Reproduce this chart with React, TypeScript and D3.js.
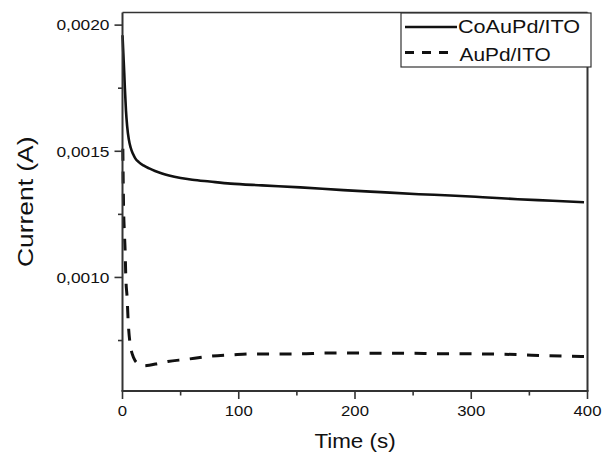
import React from "react";
import * as d3 from "d3";

const solidTime = [0, 0.5, 1, 1.5, 2, 3, 4, 5.4, 7, 9, 11, 14, 18, 23, 28, 34, 40, 50, 60, 75, 93, 120, 153, 190, 222, 255, 282, 310, 340, 370, 397];
const solidCurrent = [0.00196, 0.00191, 0.00186, 0.00181, 0.001754, 0.00166, 0.0016, 0.001548, 0.001515, 0.00149, 0.001472, 0.001457, 0.001444, 0.001432, 0.001422, 0.001412, 0.001404, 0.001394, 0.001387, 0.00138, 0.001372, 0.001365, 0.001357, 0.001346, 0.001338, 0.00133, 0.001325, 0.001318, 0.00131, 0.001304, 0.001298];

const dashTime = [0.3, 0.9, 1.5, 2.3, 2.8, 4.0, 4.9, 6.6, 8.5, 10.9, 14, 17.8, 23, 30.7, 39, 54, 74, 94, 112, 133, 151, 172, 192, 210, 230, 250, 269, 289, 308, 327, 346, 366, 385, 397];
const dashCurrent = [0.00151, 0.001282, 0.00119, 0.0011, 0.001008, 0.000917, 0.000825, 0.000734, 0.000695, 0.00067, 0.000656, 0.00065, 0.000652, 0.000659, 0.000667, 0.000675, 0.000687, 0.000693, 0.000697, 0.000697, 0.000697, 0.0007, 0.000701, 0.0007, 0.0007, 0.0007, 0.000698, 0.000698, 0.000697, 0.000696, 0.000693, 0.00069, 0.000688, 0.000687];

const xMajor = [0, 100, 200, 300, 400];
const xMinor = [50, 150, 250, 350];
const yMajor = [0.001, 0.0015, 0.002];
const yMinor = [0.00075, 0.00125, 0.00175];

const seriesNames = ["CoAuPd/ITO", "AuPd/ITO"];
const xTitle = "Time (s)";
const yTitle = "Current (A)";

const FONT = "'Liberation Sans', Arial, Helvetica, sans-serif";
const INK = "#111";

export default function App() {
  const left = 122.5, right = 587.5, top = 12.5, bottom = 391;
  const x = d3.scaleLinear().domain([0, 400]).range([left, right]);
  const y = d3.scaleLinear().domain([0.00055, 0.00205]).range([bottom, top]);

  const line = d3
    .line<[number, number]>()
    .x((d) => x(d[0]))
    .y((d) => y(d[1]))
    .curve(d3.curveMonotoneX);

  const solidPts = solidTime.map((t, i) => [t, solidCurrent[i]] as [number, number]);
  const dashPts = dashTime.map((t, i) => [t, dashCurrent[i]] as [number, number]);

  const fmtY = (v: number) => v.toFixed(4).replace(".", ",");

  return (
    <svg
      width={602}
      height={452}
      style={{ position: "absolute", left: 0, top: 0, background: "#fff" }}
      fontFamily={FONT}
    >
      <rect x={0} y={0} width={602} height={452} fill="#fff" />
      {/* frame */}
      <line x1={left} x2={right} y1={top} y2={top} stroke="#333" strokeWidth={1.5} />
      <line x1={right} x2={right} y1={top} y2={bottom} stroke="#333" strokeWidth={2} />
      {/* curves */}
      <path d={line(solidPts) || ""} fill="none" stroke={INK} strokeWidth={2.6} />
      <path d={line(dashPts) || ""} fill="none" stroke={INK} strokeWidth={3} strokeDasharray="12,10.5" />
      {/* axes */}
      <line x1={left} x2={left} y1={top} y2={bottom} stroke="#333" strokeWidth={2} />
      <line x1={left - 1} x2={right + 1} y1={bottom} y2={bottom} stroke="#333" strokeWidth={2} />
      {xMajor.map((v) => (
        <g key={"xm" + v}>
          <line x1={x(v)} x2={x(v)} y1={bottom} y2={bottom + 8} stroke="#333" strokeWidth={1.6} />
          <g transform={`translate(${x(v)},${416}) scale(1.08,1)`}>
            <text textAnchor="middle" fontSize={15.5} fill={INK}>
              {v}
            </text>
          </g>
        </g>
      ))}
      {xMinor.map((v) => (
        <line key={"xn" + v} x1={x(v)} x2={x(v)} y1={bottom} y2={bottom + 4.5} stroke="#333" strokeWidth={1.6} />
      ))}
      {yMajor.map((v) => (
        <g key={"ym" + v}>
          <line x1={left - 8} x2={left} y1={y(v)} y2={y(v)} stroke="#333" strokeWidth={1.6} />
          <g transform={`translate(${left - 13},${y(v) + 5.3}) scale(1.12,1)`}>
            <text textAnchor="end" fontSize={15.5} fill={INK}>
              {fmtY(v)}
            </text>
          </g>
        </g>
      ))}
      {yMinor.map((v) => (
        <line key={"yn" + v} x1={left - 4.5} x2={left} y1={y(v)} y2={y(v)} stroke="#333" strokeWidth={1.6} />
      ))}
      {/* titles */}
      <g transform={`translate(${(left + right) / 2},448) scale(1.12,1)`}>
        <text textAnchor="middle" fontSize={20} fill={INK}>
          {xTitle}
        </text>
      </g>
      <g transform={`translate(33,${(top + bottom) / 2}) rotate(-90) scale(1.2,1)`}>
        <text textAnchor="middle" fontSize={22} fill={INK}>
          {yTitle}
        </text>
      </g>
      {/* legend */}
      <rect x={401} y={13} width={190} height={54} fill="#fff" stroke="#333" strokeWidth={1.2} />
      <line x1={405} x2={457} y1={27} y2={27} stroke={INK} strokeWidth={2.6} />
      <line x1={405} x2={450} y1={52.5} y2={52.5} stroke={INK} strokeWidth={3} strokeDasharray="9,8" />
      <g transform={`translate(458,33.3) scale(1.22,1)`}>
        <text fontSize={17.7} fill={INK}>
          {seriesNames[0]}
        </text>
      </g>
      <g transform={`translate(459.5,60.7) scale(1.18,1)`}>
        <text fontSize={17.7} fill={INK}>
          {seriesNames[1]}
        </text>
      </g>
    </svg>
  );
}
